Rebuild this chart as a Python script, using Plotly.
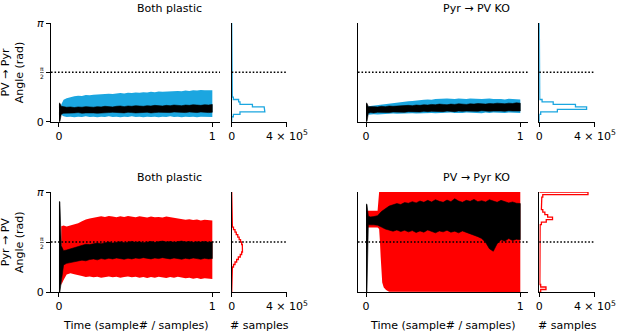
import numpy as np
import plotly.graph_objects as go

PI = np.pi
HALF_PI = PI / 2

# ---------------- data ----------------
T = [0.0, 0.006, 0.015, 0.03, 0.05, 0.075, 0.1, 0.125, 0.15, 0.175,
     0.2, 0.225, 0.25, 0.275, 0.3, 0.325, 0.35, 0.375, 0.4, 0.425,
     0.45, 0.475, 0.5, 0.525, 0.55, 0.575, 0.6, 0.625, 0.65, 0.675,
     0.7, 0.725, 0.75, 0.775, 0.8, 0.825, 0.85, 0.875, 0.9, 0.925,
     0.95, 0.975, 1.0]

# Top-left: Both plastic, PV -> Pyr
TL_BLUE_HI = [None, None, 0.55, 0.70, 0.75, 0.79, 0.81, 0.83, 0.82, 0.85,
              0.84, 0.86, 0.87, 0.86, 0.88, 0.89, 0.88, 0.90, 0.91, 0.90,
              0.92, 0.91, 0.93, 0.92, 0.94, 0.93, 0.95, 0.94, 0.96, 0.95,
              0.96, 0.97, 0.96, 0.98, 0.97, 0.99, 0.98, 1.00, 0.99, 1.01,
              1.00, 1.01, 1.00]
TL_BLUE_LO = [None, None, 0.22, 0.17, 0.15, 0.16, 0.14, 0.16, 0.15, 0.17,
              0.15, 0.16, 0.14, 0.16, 0.15, 0.17, 0.15, 0.16, 0.14, 0.16,
              0.15, 0.17, 0.15, 0.16, 0.14, 0.16, 0.15, 0.16, 0.14, 0.16,
              0.15, 0.17, 0.15, 0.16, 0.14, 0.16, 0.15, 0.16, 0.14, 0.16,
              0.15, 0.16, 0.15]
TL_BLACK_HI = [0.59, 0.59, 0.49, 0.47, 0.46, 0.47, 0.45, 0.47, 0.46, 0.48,
               0.47, 0.46, 0.48, 0.47, 0.49, 0.48, 0.47, 0.49, 0.50, 0.48,
               0.50, 0.49, 0.51, 0.50, 0.49, 0.51, 0.50, 0.52, 0.51, 0.50,
               0.52, 0.51, 0.53, 0.52, 0.51, 0.53, 0.52, 0.54, 0.53, 0.52,
               0.54, 0.53, 0.55]
TL_BLACK_LO = [0.0, 0.0, 0.24, 0.27, 0.28, 0.27, 0.28, 0.29, 0.27, 0.28,
               0.29, 0.28, 0.27, 0.29, 0.28, 0.29, 0.30, 0.28, 0.29, 0.28,
               0.30, 0.29, 0.28, 0.30, 0.29, 0.30, 0.28, 0.29, 0.30, 0.29,
               0.30, 0.29, 0.31, 0.29, 0.30, 0.29, 0.31, 0.30, 0.29, 0.31,
               0.30, 0.29, 0.30]

# Top-right: Pyr -> PV KO, PV -> Pyr
TR_BLUE_HI = [None, None, 0.49, 0.50, 0.52, 0.53, 0.55, 0.56, 0.57, 0.59,
              0.60, 0.62, 0.63, 0.65, 0.66, 0.68, 0.69, 0.70, 0.71, 0.70,
              0.72, 0.73, 0.72, 0.74, 0.73, 0.72, 0.74, 0.73, 0.72, 0.74,
              0.73, 0.74, 0.72, 0.73, 0.74, 0.72, 0.73, 0.72, 0.71, 0.73,
              0.72, 0.71, 0.71]
TR_BLUE_LO = [None, None, 0.22, 0.23, 0.24, 0.23, 0.25, 0.24, 0.25, 0.26,
              0.25, 0.26, 0.27, 0.26, 0.27, 0.26, 0.27, 0.28, 0.27, 0.28,
              0.27, 0.28, 0.27, 0.28, 0.29, 0.28, 0.27, 0.28, 0.29, 0.28,
              0.29, 0.28, 0.27, 0.29, 0.28, 0.29, 0.28, 0.29, 0.28, 0.29,
              0.28, 0.29, 0.28]
TR_BLACK_HI = [0.59, 0.59, 0.48, 0.47, 0.48, 0.47, 0.49, 0.48, 0.50, 0.49,
               0.50, 0.51, 0.50, 0.52, 0.51, 0.53, 0.52, 0.54, 0.53, 0.55,
               0.54, 0.56, 0.55, 0.54, 0.56, 0.55, 0.57, 0.56, 0.55, 0.57,
               0.56, 0.58, 0.57, 0.56, 0.58, 0.57, 0.59, 0.58, 0.57, 0.59,
               0.58, 0.60, 0.59]
TR_BLACK_LO = [0.0, 0.0, 0.27, 0.29, 0.28, 0.30, 0.29, 0.30, 0.29, 0.31,
               0.30, 0.31, 0.30, 0.32, 0.31, 0.32, 0.31, 0.33, 0.32, 0.33,
               0.32, 0.33, 0.32, 0.34, 0.33, 0.32, 0.34, 0.33, 0.34, 0.33,
               0.34, 0.33, 0.35, 0.34, 0.33, 0.34, 0.35, 0.34, 0.33, 0.35,
               0.34, 0.33, 0.34]

# Bottom-left: Both plastic, Pyr -> PV
BL_RED_HI = [None, None, 2.07, 2.09, 2.06, 2.09, 2.11, 2.16, 2.22, 2.28,
             2.31, 2.34, 2.35, 2.38, 2.36, 2.39, 2.37, 2.35, 2.38, 2.36,
             2.39, 2.37, 2.35, 2.38, 2.36, 2.34, 2.37, 2.35, 2.36, 2.34,
             2.37, 2.35, 2.33, 2.30, 2.28, 2.27, 2.29, 2.26, 2.28, 2.25,
             2.27, 2.26, 2.25]
BL_RED_LO = [None, None, 0.22, 0.38, 0.55, 0.59, 0.56, 0.52, 0.50, 0.47,
             0.49, 0.46, 0.48, 0.45, 0.47, 0.49, 0.46, 0.48, 0.45, 0.47,
             0.49, 0.46, 0.48, 0.45, 0.47, 0.44, 0.47, 0.45, 0.48, 0.46,
             0.44, 0.47, 0.45, 0.48, 0.46, 0.43, 0.45, 0.42, 0.44, 0.41,
             0.43, 0.42, 0.41]
BL_BLACK_HI = [2.84, 2.84, 1.45, 1.30, 1.32, 1.36, 1.40, 1.44, 1.47, 1.50,
               1.49, 1.52, 1.54, 1.52, 1.55, 1.57, 1.54, 1.56, 1.58, 1.55,
               1.57, 1.59, 1.56, 1.58, 1.55, 1.57, 1.59, 1.56, 1.58, 1.60,
               1.57, 1.59, 1.56, 1.58, 1.60, 1.57, 1.59, 1.56, 1.58, 1.57,
               1.59, 1.56, 1.58]
BL_BLACK_LO = [0.0, 0.0, 0.20, 0.85, 0.90, 0.92, 0.95, 0.97, 1.00, 0.98,
               1.02, 1.04, 1.01, 1.05, 1.03, 1.06, 1.04, 1.07, 1.05, 1.03,
               1.06, 1.04, 1.07, 1.05, 1.08, 1.06, 1.04, 1.07, 1.05, 1.08,
               1.06, 1.04, 1.07, 1.05, 1.03, 1.06, 1.04, 1.07, 1.05, 1.03,
               1.06, 1.04, 1.05]

# Bottom-right: PV -> Pyr KO, Pyr -> PV
BR_RED_T = [0.006, 0.075, 0.085, 0.09, 0.095, 0.1, 0.105, 0.115, 0.13, 0.15, 1.0]
BR_RED_HI = [2.55, 2.55, 3.1416, 3.1416, 3.1416, 3.1416, 3.1416, 3.1416, 3.1416, 3.1416, 3.1416]
BR_RED_LO = [2.03, 2.03, 1.98, 1.60, 1.10, 0.60, 0.30, 0.14, 0.06, 0.01, 0.0]
BR_BLACK_HI = [2.76, 2.76, 2.38, 2.36, 2.37, 2.40, 2.53, 2.63, 2.70, 2.74,
               2.78, 2.75, 2.81, 2.79, 2.84, 2.80, 2.86, 2.82, 2.88, 2.83,
               2.90, 2.85, 2.82, 2.89, 2.84, 2.93, 2.86, 2.82, 2.88, 2.85,
               2.91, 2.84, 2.87, 2.83, 2.90, 2.86, 2.82, 2.88, 2.84, 2.80,
               2.83, 2.79, 2.78]
BR_BLACK_LO = [0.0, 0.0, 2.11, 2.12, 2.11, 2.10, 2.04, 1.98, 1.94, 1.91,
               1.95, 1.90, 1.94, 1.89, 1.93, 1.87, 1.92, 1.88, 1.95, 1.90,
               1.86, 1.92, 1.89, 1.94, 1.88, 1.91, 1.86, 1.92, 1.88, 1.82,
               1.78, 1.74, 1.68, 1.56, 1.36, 1.28, 1.52, 1.64, 1.60, 1.68,
               1.62, 1.66, 1.64]

# Histograms: 40 bins over [0, pi]
N_BINS = 40
TL_HIST = [0, 0, 1.2e4, 6e4, 2.4e5, 2.35e5, 1.5e5, 6e4, 5e4, 1.2e4,
           4e3, 0, 0, 0, 0, 0, 0, 0, 0, 0,
           0, 0, 0, 0, 0, 0, 0, 0, 0, 0,
           0, 0, 0, 0, 0, 0, 0, 0, 0, 0]
TR_HIST = [0, 0, 0, 1e4, 1.3e5, 3.4e5, 2.6e5, 1.0e5, 2e4, 3e3,
           0, 0, 0, 0, 0, 0, 0, 0, 0, 0,
           0, 0, 0, 0, 0, 0, 0, 0, 0, 0,
           0, 0, 0, 0, 0, 0, 0, 0, 0, 0]
BL_HIST = [0, 0, 0, 0, 0, 0, 0, 0, 1e3, 5e3,
           1.3e4, 2.4e4, 3.6e4, 4.8e4, 6.2e4, 7.2e4, 7.8e4, 8e4, 7.7e4, 7.2e4,
           6.4e4, 5.4e4, 4.4e4, 3.3e4, 2.4e4, 1.3e4, 5e3, 1e3, 0, 0,
           0, 0, 0, 0, 0, 0, 0, 0, 0, 0]
BR_HIST = [1e4, 4.8e4, 1e4, 4e3, 4e3, 4e3, 4e3, 4e3, 4e3, 4e3,
           4e3, 4e3, 4e3, 4e3, 4e3, 4e3, 4e3, 4e3, 4e3, 4e3,
           4e3, 4e3, 4e3, 4e3, 4e3, 4e3, 6e3, 1.5e4, 5e4, 9.5e4,
           6e4, 4e4, 2.5e4, 1.5e4, 1.8e4, 2e4, 1.5e4, 1.8e4, 2.5e4, 3.5e5]

HIST_MAX = 4e5
TITLES = ["Both plastic", "Pyr → PV KO", "Both plastic", "PV → Pyr KO"]
ROW_LABELS = ["PV → Pyr<br>Angle (rad)", "Pyr → PV<br>Angle (rad)"]
X_MAIN_TICKS = [0, 1]
X_MAIN_TICKTEXT = ["0", "1"]
X_HIST_TICKS = [0, HIST_MAX]
X_HIST_TICKTEXT = ["0", "4 × 10<sup>5</sup>"]
Y_TICKS = [0, HALF_PI, PI]
Y_TICKTEXT = ["0", "", "<i>π</i>"]
X_TITLE_MAIN = "Time (sample# / samples)"
X_TITLE_HIST = "# samples"

BLUE = "#1BA6E0"
RED = "#FF0000"
FONT = "DejaVu Sans"

# ---------------- figure ----------------
W, H = 617, 332
fig = go.Figure()


def ax_names(n):
    return ("x" if n == 1 else f"x{n}"), ("y" if n == 1 else f"y{n}")


def band(n, t, lo, hi, color, lw=0.0):
    xa, ya = ax_names(n)
    pts = [(a, b, c) for a, b, c in zip(t, lo, hi) if b is not None and c is not None]
    ts = [p[0] for p in pts]
    xs = ts + ts[::-1]
    ys = [p[2] for p in pts] + [p[1] for p in pts][::-1]
    fig.add_trace(go.Scatter(x=xs, y=ys, xaxis=xa, yaxis=ya, mode="lines",
                             fill="toself", fillcolor=color,
                             line=dict(color=color, width=lw), hoverinfo="skip"))


def hist(n, counts, color):
    xa, ya = ax_names(n)
    edges = np.linspace(0, PI, N_BINS + 1)
    xs, ys = [0.0], [edges[0]]
    for k, c in enumerate(counts):
        xs += [c, c]
        ys += [edges[k], edges[k + 1]]
    xs.append(0.0)
    ys.append(edges[-1])
    fig.add_trace(go.Scatter(x=xs, y=ys, xaxis=xa, yaxis=ya, mode="lines",
                             line=dict(color=color, width=1.3), hoverinfo="skip"))


band(1, T, TL_BLUE_LO, TL_BLUE_HI, BLUE)
band(1, T, TL_BLACK_LO, TL_BLACK_HI, "black", 0.6)
hist(2, TL_HIST, BLUE)
band(3, T, TR_BLUE_LO, TR_BLUE_HI, BLUE)
band(3, T, TR_BLACK_LO, TR_BLACK_HI, "black", 0.6)
hist(4, TR_HIST, BLUE)
band(5, T, BL_RED_LO, BL_RED_HI, RED)
band(5, T, BL_BLACK_LO, BL_BLACK_HI, "black", 0.6)
hist(6, BL_HIST, RED)
band(7, BR_RED_T, BR_RED_LO, BR_RED_HI, RED)
band(7, T, BR_BLACK_LO, BR_BLACK_HI, "black", 0.6)
hist(8, BR_HIST, RED)

# layout geometry (pixels)
COLS = [(51, 220), (231.7, 287), (358, 528), (539.3, 595)]
ROWS = [(23, 121.7), (192, 292)]

common = dict(showline=True, linecolor="black", linewidth=1.3, showgrid=False,
              zeroline=False, tickcolor="black", tickwidth=1.2, ticklen=4,
              automargin=False,
              tickfont=dict(family=FONT, size=11, color="black"))
layout = {}
for r in range(2):
    for c in range(4):
        n = r * 4 + c + 1
        xk = "xaxis" if n == 1 else f"xaxis{n}"
        yk = "yaxis" if n == 1 else f"yaxis{n}"
        xa, ya = ax_names(n)
        x0, x1 = COLS[c]
        ytop, ybot = ROWS[r]
        xd = [x0 / W, x1 / W]
        yd = [1 - ybot / H, 1 - ytop / H]
        is_main = c in (0, 2)
        if is_main:
            xax = dict(common, domain=xd, anchor=ya, range=[-0.052, 1.05],
                       tickvals=X_MAIN_TICKS, ticktext=X_MAIN_TICKTEXT, ticks="outside")
        else:
            xax = dict(common, domain=xd, anchor=ya, range=[0, HIST_MAX * 1.001],
                       tickvals=X_HIST_TICKS, ticktext=X_HIST_TICKTEXT, ticks="outside")
        if c == 0:
            yax = dict(common, domain=yd, anchor=xa, range=[0, PI * 1.0005],
                       tickvals=Y_TICKS, ticktext=Y_TICKTEXT, ticks="outside")
        else:
            yax = dict(common, domain=yd, anchor=xa, range=[0, PI * 1.0005],
                       ticks="", showticklabels=False)
        layout[xk] = xax
        layout[yk] = yax
        # dotted pi/2 reference line
        fig.add_shape(type="line", xref=f"{xa} domain", x0=0, x1=1,
                      yref=ya, y0=HALF_PI, y1=HALF_PI,
                      line=dict(color="black", width=1.5, dash="1.6px,1.9px"))

fig.update_layout(**layout)

ann = []
# titles
for r in range(2):
    for side in range(2):
        x0 = COLS[side * 2][0]
        x1 = COLS[side * 2 + 1][1]
        ytop_txt = 0 if r == 0 else 169
        ann.append(dict(text=TITLES[r * 2 + side], x=(x0 + x1) / 2 / W, y=1 - ytop_txt / H,
                        xref="paper", yref="paper", xanchor="center", yanchor="top",
                        showarrow=False, font=dict(family=FONT, size=11, color="black")))
# row labels and pi/2 fraction
for r in range(2):
    ytop, ybot = ROWS[r]
    ym = (ytop + ybot) / 2
    ann.append(dict(text=ROW_LABELS[r], x=12 / W, y=1 - ym / H, xref="paper", yref="paper",
                    xanchor="center", yanchor="middle", textangle=-90, showarrow=False,
                    font=dict(family=FONT, size=11, color="black")))
    yh = ybot - (ybot - ytop) / 2
    ann.append(dict(text="<u>π</u><br>2", x=41.5 / W, y=1 - yh / H, xref="paper", yref="paper",
                    xanchor="center", yanchor="middle", showarrow=False,
                    font=dict(family=FONT, size=6, color="black")))
# x titles (bottom row)
for c in range(4):
    x0, x1 = COLS[c]
    ann.append(dict(text=X_TITLE_MAIN if c in (0, 2) else X_TITLE_HIST,
                    x=(x0 + x1) / 2 / W, y=1 - 325 / H, xref="paper", yref="paper",
                    xanchor="center", yanchor="middle", showarrow=False,
                    font=dict(family=FONT, size=11, color="black")))

fig.update_layout(width=W, height=H, margin=dict(l=0, r=0, t=0, b=0),
                  paper_bgcolor="white", plot_bgcolor="white", showlegend=False,
                  annotations=ann, font=dict(family=FONT, size=11, color="black"))

fig.write_html("out.html", config={"displayModeBar": False},
               post_script="document.body.style.margin='0px';document.body.style.padding='0px';")
